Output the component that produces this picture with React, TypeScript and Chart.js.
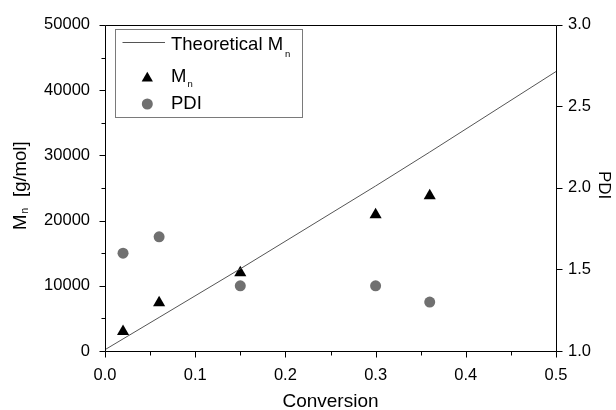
import React, { useEffect, useRef } from "react";
import { Chart, registerables } from "chart.js";

Chart.register(...registerables);

// ---- data ----
const conversion = [0.02, 0.06, 0.15, 0.3, 0.36];
const mnValues = [3000, 7400, 12000, 20900, 23800];
const pdiValues = [1.6, 1.7, 1.4, 1.4, 1.3];
const theoryConversion = [0, 0.02, 0.06, 0.15, 0.3, 0.36, 0.5];
const theoryMn = [200, 1850, 5150, 12600, 25300, 30500, 42850];

const xTicks = [0, 0.1, 0.2, 0.3, 0.4, 0.5];
const xMinorTicks = [0.05, 0.15, 0.25, 0.35, 0.45];
const leftTicks = [0, 10000, 20000, 30000, 40000, 50000];
const leftMinorTicks = [5000, 15000, 25000, 35000, 45000];
const rightTicks = [1.0, 1.5, 2.0, 2.5, 3.0];

const legendLabels = ["Theoretical M", "M", "PDI"];
const xTitle = "Conversion";
const yTitleMain = "M";
const yTitleRest = "[g/mol]";
const y1Title = "PDI";

const FONT = '"Liberation Sans", Arial, sans-serif';
const CIRCLE_COLOR = "#707070";
const LINE_COLOR = "#555555";

const overlayPlugin = {
  id: "overlay",
  afterDraw(chart: any) {
    const ctx: CanvasRenderingContext2D = chart.ctx;
    const { left, right, top, bottom } = chart.chartArea;
    const xs = chart.scales.x;
    const ys = chart.scales.y;
    const y1s = chart.scales.y1;
    const L = Math.round(left) + 0.5;
    const R = Math.round(right) + 0.5;
    const T = Math.round(top) + 0.5;
    const B = Math.round(bottom) + 0.5;
    ctx.save();
    ctx.strokeStyle = "#000";
    ctx.lineWidth = 1;
    ctx.beginPath();
    ctx.rect(L, T, R - L, B - T);
    ctx.stroke();
    // ticks
    ctx.beginPath();
    xTicks.forEach((v) => {
      const px = Math.round(xs.getPixelForValue(v)) + 0.5;
      ctx.moveTo(px, B);
      ctx.lineTo(px, B + 6);
    });
    xMinorTicks.forEach((v) => {
      const px = Math.round(xs.getPixelForValue(v)) + 0.5;
      ctx.moveTo(px, B);
      ctx.lineTo(px, B + 4);
    });
    leftTicks.forEach((v) => {
      const py = Math.round(ys.getPixelForValue(v)) + 0.5;
      ctx.moveTo(L, py);
      ctx.lineTo(L - 6, py);
    });
    leftMinorTicks.forEach((v) => {
      const py = Math.round(ys.getPixelForValue(v)) + 0.5;
      ctx.moveTo(L, py);
      ctx.lineTo(L - 4, py);
    });
    rightTicks.forEach((v) => {
      const py = Math.round(y1s.getPixelForValue(v)) + 0.5;
      ctx.moveTo(R, py);
      ctx.lineTo(R + 6, py);
    });
    ctx.stroke();

    // legend box
    ctx.strokeStyle = "#7a7a7a";
    ctx.strokeRect(115.5, 29.5, 187, 88);
    ctx.strokeStyle = LINE_COLOR;
    ctx.beginPath();
    ctx.moveTo(122.5, 42.5);
    ctx.lineTo(165, 42.5);
    ctx.stroke();
    // triangle
    const tx = 147.3, ty = 78.2, tr = 6.5;
    ctx.fillStyle = "#000";
    ctx.beginPath();
    ctx.moveTo(tx, ty - tr);
    ctx.lineTo(tx + tr * Math.sin((2 * Math.PI) / 3), ty + tr / 2);
    ctx.lineTo(tx - tr * Math.sin((2 * Math.PI) / 3), ty + tr / 2);
    ctx.closePath();
    ctx.fill();
    // circle
    ctx.fillStyle = CIRCLE_COLOR;
    ctx.beginPath();
    ctx.arc(147.3, 104, 5.5, 0, Math.PI * 2);
    ctx.fill();

    ctx.fillStyle = "#000";
    ctx.textBaseline = "alphabetic";
    ctx.textAlign = "left";
    ctx.font = `18.5px ${FONT}`;
    ctx.fillText(legendLabels[0], 171, 50);
    const w0 = ctx.measureText(legendLabels[0]).width;
    ctx.fillText(legendLabels[1], 171, 82.3);
    const w1 = ctx.measureText(legendLabels[1]).width;
    ctx.fillText(legendLabels[2], 171, 109.3);
    ctx.font = `9.5px ${FONT}`;
    ctx.fillText("n", 171 + w0 + 2, 57);
    ctx.fillText("n", 171 + w1 + 1, 86.7);

    // x title
    ctx.font = `19px ${FONT}`;
    ctx.textAlign = "center";
    ctx.fillText(xTitle, (left + right) / 2, 407);

    // left title
    ctx.save();
    ctx.translate(26, 230);
    ctx.rotate(-Math.PI / 2);
    ctx.textAlign = "left";
    ctx.font = `18.5px ${FONT}`;
    ctx.fillText(yTitleMain, 0, 0);
    const wm = ctx.measureText(yTitleMain).width;
    ctx.fillText(yTitleRest, 33, 0);
    ctx.font = `10px ${FONT}`;
    ctx.fillText("n", wm + 1, 2);
    ctx.restore();

    // right title
    ctx.save();
    ctx.translate(599, 171);
    ctx.rotate(Math.PI / 2);
    ctx.textAlign = "left";
    ctx.font = `17px ${FONT}`;
    ctx.fillText(y1Title, 0, 0);
    ctx.restore();

    ctx.restore();
  },
};

export default function App() {
  const ref = useRef<HTMLCanvasElement | null>(null);
  useEffect(() => {
    if (!ref.current) return;
    const tickFont = { family: FONT, size: 16.5 };
    const chart = new Chart(ref.current, {
      type: "scatter",
      data: {
        datasets: [
          {
            type: "line",
            label: "Theoretical Mn",
            data: theoryConversion.map((x, i) => ({ x, y: theoryMn[i] })),
            borderColor: LINE_COLOR,
            borderWidth: 1,
            pointRadius: 0,
            fill: false,
            tension: 0,
            yAxisID: "y",
          } as any,
          {
            label: "Mn",
            data: conversion.map((x, i) => ({ x, y: mnValues[i] })),
            pointStyle: "triangle",
            pointRadius: 7,
            backgroundColor: "#000",
            borderColor: "#000",
            borderWidth: 0,
            yAxisID: "y",
          },
          {
            label: "PDI",
            data: conversion.map((x, i) => ({ x, y: pdiValues[i] })),
            pointStyle: "circle",
            pointRadius: 5.5,
            backgroundColor: CIRCLE_COLOR,
            borderColor: CIRCLE_COLOR,
            borderWidth: 0,
            yAxisID: "y1",
          },
        ],
      },
      options: {
        animation: false,
        responsive: true,
        maintainAspectRatio: false,
        layout: { padding: { top: 20, left: 0, right: 0, bottom: 0 } },
        plugins: { legend: { display: false }, tooltip: { enabled: false } },
        scales: {
          x: {
            type: "linear",
            min: 0,
            max: 0.5,
            afterBuildTicks: (s: any) => {
              s.ticks = xTicks.map((value) => ({ value }));
            },
            afterFit: (s: any) => {
              s.height = 59;
            },
            ticks: {
              callback: (v: any) => Number(v).toFixed(1),
              font: tickFont,
              color: "#000",
              padding: 15,
              maxRotation: 0,
              autoSkip: false,
            },
            grid: { display: false, drawTicks: false },
            border: { display: false },
          },
          y: {
            type: "linear",
            position: "left",
            min: 0,
            max: 50000,
            afterBuildTicks: (s: any) => {
              s.ticks = leftTicks.map((value) => ({ value }));
            },
            afterFit: (s: any) => {
              s.width = 105;
            },
            ticks: {
              callback: (v: any) => String(v),
              font: tickFont,
              color: "#000",
              padding: 15,
              autoSkip: false,
            },
            grid: { display: false, drawTicks: false },
            border: { display: false },
          },
          y1: {
            type: "linear",
            position: "right",
            min: 1,
            max: 3,
            afterBuildTicks: (s: any) => {
              s.ticks = rightTicks.map((value) => ({ value }));
            },
            afterFit: (s: any) => {
              s.width = 60;
            },
            ticks: {
              callback: (v: any) => Number(v).toFixed(1),
              font: tickFont,
              color: "#000",
              padding: 12,
              autoSkip: false,
            },
            grid: { display: false, drawTicks: false },
            border: { display: false },
          },
        },
      },
      plugins: [overlayPlugin],
    });
    return () => chart.destroy();
  }, []);
  return (
    <div style={{ position: "absolute", left: 0, top: 0, width: 616, height: 410, background: "#fff" }}>
      <canvas ref={ref} />
    </div>
  );
}
